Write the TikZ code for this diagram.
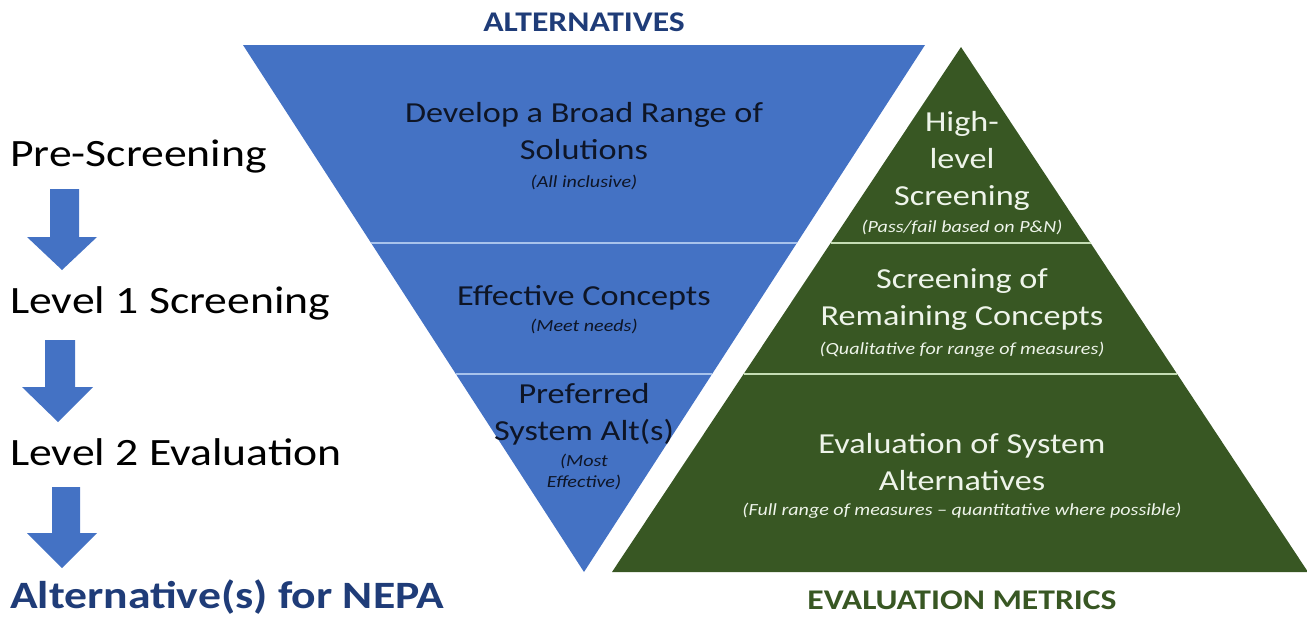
\documentclass[tikz,border=0pt]{standalone}
\usepackage{fontspec}
\setmainfont{Carlito}[FakeStretch=1.18]
\usetikzlibrary{calc}
\definecolor{altblue}{HTML}{4472C4}
\definecolor{altline}{HTML}{A8C3EC}
\definecolor{evgreen}{HTML}{385723}
\definecolor{evline}{HTML}{C5DDB4}
\definecolor{navy}{HTML}{1F3C78}
\definecolor{dtext}{HTML}{0E1526}
\definecolor{gtext}{HTML}{EEF4EA}
\tikzset{
  main/.style={font=\fontsize{29}{37}\selectfont, align=center, inner sep=0pt},
  sub/.style={font=\fontsize{17}{21}\selectfont\itshape, align=center, inner sep=0pt},
  blk/.style={text=dtext},
  grn/.style={text=gtext},
  left/.style={font=\fontsize{38.7}{40}\selectfont, anchor=base west, inner sep=0pt, text=black},
  head/.style={font=\fontsize{28.5}{30}\selectfont\bfseries, inner sep=0pt, anchor=base},
  blockarrow/.style={fill=altblue, draw=none},
  divider/.style={line width=2.5pt}
}
\begin{document}
\begin{tikzpicture}[x=1pt,y=-1pt]
\useasboundingbox (0,0) rectangle (1307,622);
% inverted triangle
\coordinate (bl) at (243,45);
\coordinate (br) at (925,45);
\coordinate (bt) at (584,572);
\fill[altblue] (bl) -- (br) -- (bt) -- cycle;
\draw[divider, altline] ($(bl)!0.3757!(bt)$) -- ($(br)!0.3757!(bt)$);
\draw[divider, altline] ($(bl)!0.6243!(bt)$) -- ($(br)!0.6243!(bt)$);
% pyramid
\coordinate (ga) at (961,47);
\coordinate (gl) at (612,572);
\coordinate (gr) at (1308,572);
\fill[evgreen] (ga) -- (gr) -- (gl) -- cycle;
\draw[divider, evline] ($(ga)!0.3733!(gl)$) -- ($(ga)!0.3733!(gr)$);
\draw[divider, evline] ($(ga)!0.6229!(gl)$) -- ($(ga)!0.6229!(gr)$);
% headings
\node[head, text=navy] (althead) at (584,31) {ALTERNATIVES};
\node[head, text=evgreen] (evhead) at (962,609) {EVALUATION METRICS};
% blue texts
\node[main, blk] (b1) at (584,131) {Develop a Broad Range of\\Solutions};
\node[sub, blk] (b1s) at (584,182) {(All inclusive)};
\node[main, blk] (b2) at (584,298) {Effective Concepts};
\node[sub, blk] (b2s) at (584,326) {(Meet needs)};
\node[main, blk] (b3) at (584,414) {Preferred\\System Alt(s)};
\node[sub, blk] (b3s) at (584,472) {(Most\\Effective)};
% green texts
\node[main, grn] (g1) at (962,161) {High-\\level\\Screening};
\node[sub, grn] (g1s) at (962,227) {(Pass/fail based on P\&N)};
\node[main, grn] (g2) at (962,300) {Screening of\\Remaining Concepts};
\node[sub, grn] (g2s) at (962,350) {(Qualitative for range of measures)};
\node[main, grn] (g3) at (962,462) {Evaluation of System\\Alternatives};
\node[sub, grn] (g3s) at (962,511) {(Full range of measures -- quantitative where possible)};
% left column
\node[left] (l1) at (10,166) {Pre-Screening};
\node[left] (l2) at (10,313) {Level 1 Screening};
\node[left] (l3) at (10,465) {Level 2 Evaluation};
\node[left, font=\fontsize{38.7}{40}\selectfont\bfseries, text=navy] (l4) at (10,608) {Alternative(s) for NEPA};
% block arrows
\fill[blockarrow] (50,189) -- (79,189) -- (79,237) -- (97,237) -- (62,270) -- (27,237) -- (50,237) -- cycle;
\fill[blockarrow] (45,340) -- (75,340) -- (75,387) -- (93,387) -- (58,422) -- (22,387) -- (45,387) -- cycle;
\fill[blockarrow] (52,487) -- (80,487) -- (80,533) -- (97,533) -- (62,568) -- (27,533) -- (52,533) -- cycle;
\end{tikzpicture}
\end{document}
